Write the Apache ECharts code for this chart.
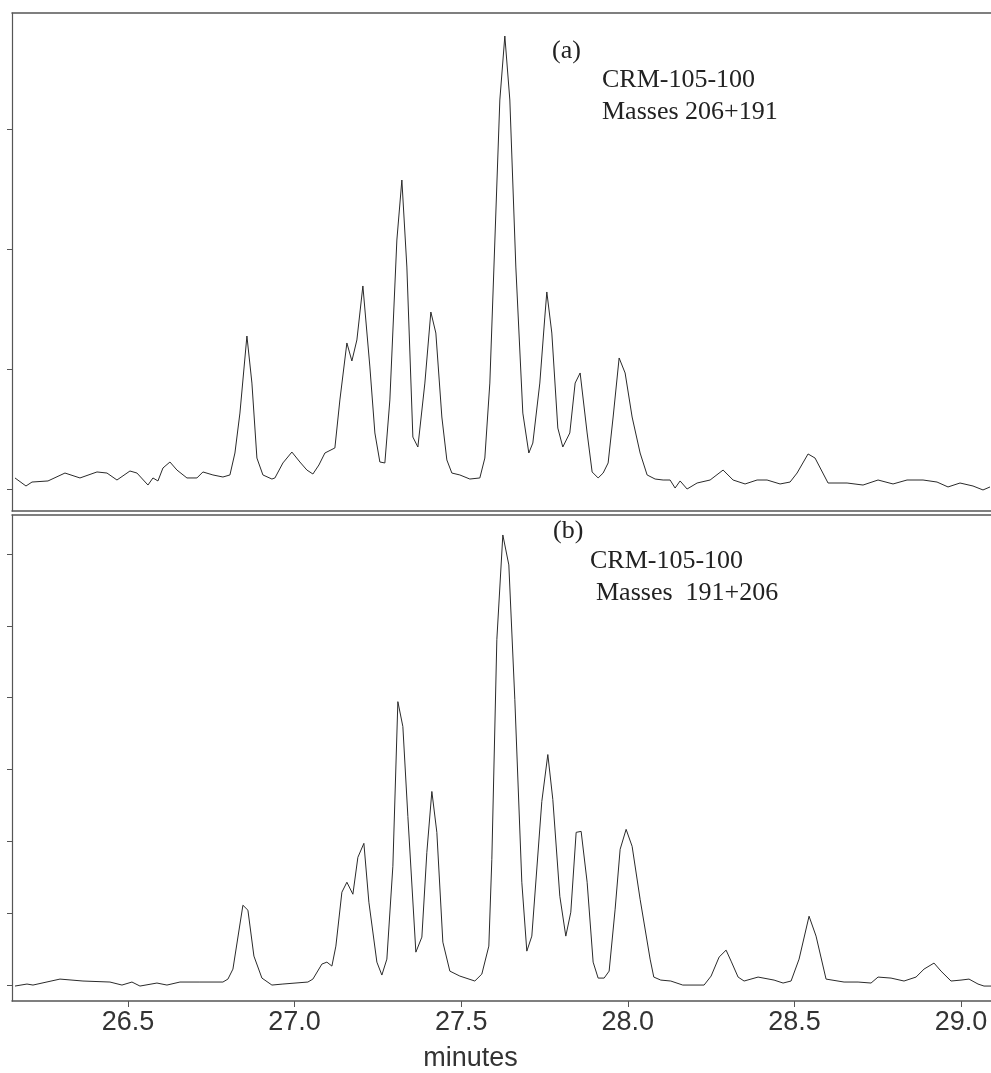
<!DOCTYPE html>
<html>
<head>
    <meta charset="utf-8">
    <script src="https://cdn.jsdelivr.net/npm/echarts@6/dist/echarts.min.js"></script>
    <style>
        html, body { margin: 0; padding: 0; background: #fff; }
    </style>
</head>
<body>
    <div id="main" style="width: 991px;height:1073px;"></div>
    <script type="text/javascript">
        // panel (a): masses 206+191, retention time in minutes and intensity
        var timesA = [26.161, 26.194, 26.212, 26.260, 26.311, 26.356, 26.407, 26.437, 26.467, 26.506,
            26.527, 26.560, 26.575, 26.590, 26.605, 26.626, 26.647, 26.677, 26.707, 26.725,
            26.755, 26.785, 26.806, 26.821, 26.836, 26.857, 26.872, 26.887, 26.905, 26.932,
            26.941, 26.965, 26.992, 27.016, 27.037, 27.055, 27.073, 27.091, 27.121, 27.136,
            27.157, 27.172, 27.187, 27.205, 27.226, 27.241, 27.256, 27.271, 27.286, 27.307,
            27.322, 27.337, 27.355, 27.370, 27.391, 27.409, 27.424, 27.442, 27.457, 27.472,
            27.496, 27.526, 27.556, 27.571, 27.586, 27.616, 27.631, 27.646, 27.664, 27.685,
            27.703, 27.715, 27.736, 27.751, 27.757, 27.772, 27.790, 27.805, 27.826, 27.842,
            27.857, 27.878, 27.893, 27.911, 27.926, 27.941, 27.956, 27.974, 27.992, 28.013,
            28.037, 28.058, 28.082, 28.106, 28.127, 28.142, 28.157, 28.178, 28.208, 28.247,
            28.286, 28.316, 28.352, 28.388, 28.418, 28.457, 28.487, 28.508, 28.541, 28.562,
            28.601, 28.658, 28.706, 28.751, 28.796, 28.838, 28.886, 28.928, 28.961, 28.997,
            29.036, 29.066, 29.087];
        var intensityA = [9.2, 2.5, 5.8, 6.7, 13.3, 9.2, 14.2, 13.3, 7.5, 15,
            13.3, 3.3, 9.2, 6.7, 17.5, 22.5, 15.8, 9.2, 9.2, 14.2,
            11.7, 10, 11.7, 30, 63.3, 127.5, 88.3, 25.8, 11.7, 8.3,
            9.2, 21.7, 30.8, 22.5, 15.8, 12.5, 20, 30, 34.2, 74.2,
            121.7, 106.7, 124.2, 169.2, 101.7, 46.7, 22.5, 21.7, 74.2, 207.5,
            257.5, 185, 43.3, 35, 88.3, 147.5, 130, 60, 24.2, 13.3,
            11.7, 8.3, 9.2, 25.8, 88.3, 324.2, 377.5, 324.2, 185, 63.3,
            30, 38.3, 88.3, 143.3, 164.2, 130, 50.8, 35, 46.7, 88.3,
            96.7, 46.7, 14.2, 9.2, 13.3, 21.7, 60, 109.2, 96.7, 60,
            30, 11.7, 8.3, 7.5, 7.5, 0.8, 6.7, 0, 5, 7.5,
            15.8, 7.5, 4.2, 7.5, 7.5, 4.2, 5.8, 13.3, 29.2, 25.8,
            5, 5, 3.3, 7.5, 4.2, 7.5, 7.5, 5.8, 1.7, 5,
            2.5, -0.8, 1.7];

        // panel (b): masses 191+206
        var timesB = [26.161, 26.197, 26.215, 26.296, 26.365, 26.446, 26.482, 26.512, 26.536, 26.587,
            26.617, 26.656, 26.716, 26.785, 26.800, 26.815, 26.845, 26.860, 26.878, 26.902,
            26.932, 26.965, 27.040, 27.055, 27.082, 27.097, 27.112, 27.124, 27.142, 27.157,
            27.175, 27.190, 27.208, 27.223, 27.247, 27.262, 27.277, 27.295, 27.310, 27.325,
            27.340, 27.364, 27.382, 27.397, 27.412, 27.427, 27.445, 27.466, 27.496, 27.541,
            27.562, 27.583, 27.592, 27.607, 27.625, 27.643, 27.661, 27.682, 27.697, 27.712,
            27.742, 27.760, 27.775, 27.796, 27.814, 27.829, 27.845, 27.860, 27.878, 27.896,
            27.911, 27.929, 27.944, 27.962, 27.977, 27.995, 28.013, 28.037, 28.067, 28.078,
            28.099, 28.129, 28.165, 28.229, 28.250, 28.274, 28.295, 28.310, 28.331, 28.349,
            28.391, 28.439, 28.466, 28.490, 28.514, 28.544, 28.565, 28.595, 28.649, 28.691,
            28.730, 28.751, 28.790, 28.829, 28.865, 28.889, 28.919, 28.940, 28.970, 29.000,
            29.024, 29.051, 29.069, 29.090];
        var intensityB = [-1.4, 1.4, 0, 8.3, 5.6, 4.2, 0, 4.2, -1.4, 2.8,
            0, 4.2, 4.2, 4.2, 8.3, 22.2, 111.1, 104.2, 40.3, 9.7,
            0, 1.4, 4.2, 8.3, 29.2, 31.9, 26.4, 54.2, 129.2, 143.1,
            126.4, 177.8, 197.2, 115.3, 31.9, 13.9, 36.1, 165.3, 394.4, 359.7,
            234.7, 45.8, 66.7, 184.7, 269.4, 212.5, 59.7, 19.4, 12.5, 5.6,
            15.3, 54.2, 175, 480.6, 626.4, 584.7, 397.2, 143.1, 47.2, 68.1,
            255.6, 320.8, 258.3, 123.6, 68.1, 101.4, 212.5, 213.9, 143.1, 31.9,
            9.7, 9.7, 19.4, 105.6, 188.9, 216.7, 193.1, 119.4, 36.1, 11.1,
            6.9, 5.6, 0, 0, 12.5, 38.9, 48.6, 33.3, 11.1, 5.6,
            11.1, 6.9, 2.8, 5.6, 36.1, 95.8, 68.1, 8.3, 4.2, 4.2,
            2.8, 11.1, 9.7, 5.6, 11.1, 22.2, 30.6, 19.4, 5.6, 6.9,
            8.3, 1.4, -1.4, -1.4];

        var xTicks = [26.5, 27.0, 27.5, 28.0, 28.5, 29.0];
        var yTicksA = [0, 100, 200, 300];
        var yTicksB = [0, 100, 200, 300, 400, 500, 600];

        function pairs(xs, ys) {
            var out = [];
            for (var i = 0; i < xs.length; i++) {
                out.push([xs[i], ys[i]]);
            }
            return out;
        }

        var myChart = echarts.init(document.getElementById('main'));
        var lineCol = '#2a2a2a';
        var frameCol = '#555';
        var xMin = 26.152, xMax = 29.09;

        function yAxisFor(idx, min, max, ticks) {
            return {
                type: 'value', gridIndex: idx, min: min, max: max,
                splitLine: { show: false },
                axisLine: { show: true, onZero: false, lineStyle: { color: frameCol, width: 1.2 } },
                axisTick: { show: true, inside: false, length: 5, customValues: ticks,
                    lineStyle: { color: frameCol, width: 1 } },
                axisLabel: { show: false }
            };
        }

        // a bare frame line for a panel edge (top or bottom)
        function frameAxis(idx, pos) {
            return {
                type: 'value', gridIndex: idx, position: pos, min: xMin, max: xMax,
                splitLine: { show: false },
                axisLine: { show: true, onZero: false, lineStyle: { color: frameCol, width: 1.5 } },
                axisTick: { show: false },
                axisLabel: { show: false }
            };
        }

        var bottomAxis = frameAxis(1, 'bottom');
        bottomAxis.axisTick = { show: true, length: 6, customValues: xTicks,
            lineStyle: { color: frameCol, width: 1 } };
        bottomAxis.axisLabel = {
            customValues: xTicks,
            margin: 8,
            fontFamily: 'Liberation Sans',
            fontSize: 27,
            color: '#333',
            formatter: function (v) { return v.toFixed(1); }
        };
        bottomAxis.name = 'minutes';
        bottomAxis.nameLocation = 'middle';
        bottomAxis.nameGap = 44;
        bottomAxis.nameTextStyle = {
            fontFamily: 'Liberation Sans',
            fontSize: 27,
            color: '#333',
            padding: [0, 62, 0, 0]
        };

        var annoFont = '26px "Liberation Serif"';

        var option = {
            animation: false,
            grid: [
                { left: 12, right: 0, top: 13, height: 498 },
                { left: 12, right: 0, top: 515, height: 487 }
            ],
            xAxis: [
                frameAxis(0, 'bottom'),
                bottomAxis,
                frameAxis(0, 'top'),
                frameAxis(1, 'top')
            ],
            yAxis: [
                yAxisFor(0, -18.33, 396.7, yTicksA),
                yAxisFor(1, -22.2, 654.2, yTicksB)
            ],
            series: [
                {
                    name: '(a)', type: 'line', xAxisIndex: 0, yAxisIndex: 0,
                    showSymbol: false, smooth: false,
                    lineStyle: { color: lineCol, width: 1 },
                    data: pairs(timesA, intensityA)
                },
                {
                    name: '(b)', type: 'line', xAxisIndex: 1, yAxisIndex: 1,
                    showSymbol: false, smooth: false,
                    lineStyle: { color: lineCol, width: 1 },
                    data: pairs(timesB, intensityB)
                }
            ],
            graphic: [
                { type: 'text', left: 552, top: 38, style: { text: '(a)', font: annoFont, fill: '#222' } },
                { type: 'text', left: 602, top: 67, style: { text: 'CRM-105-100', font: annoFont, fill: '#222' } },
                { type: 'text', left: 602, top: 99, style: { text: 'Masses 206+191', font: annoFont, fill: '#222' } },
                { type: 'text', left: 553, top: 518, style: { text: '(b)', font: annoFont, fill: '#222' } },
                { type: 'text', left: 590, top: 548, style: { text: 'CRM-105-100', font: annoFont, fill: '#222' } },
                { type: 'text', left: 596, top: 580, style: { text: 'Masses  191+206', font: annoFont, fill: '#222' } }
            ]
        };
        myChart.setOption(option);
    </script>
</body>
</html>
